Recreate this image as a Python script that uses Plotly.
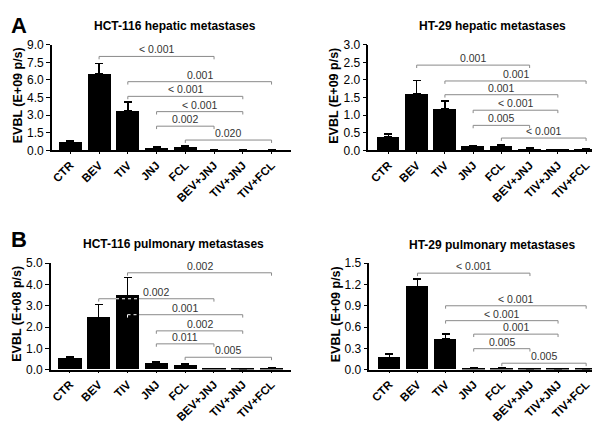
import plotly.graph_objects as go

categories = ["CTR", "BEV", "TIV", "JNJ", "FCL", "BEV+JNJ", "TIV+JNJ", "TIV+FCL"]

# Panel A-left: HCT-116 hepatic
hct_hep_mean = [0.70, 6.50, 3.40, 0.24, 0.30, 0.04, 0.04, 0.04]
hct_hep_top = [0.82, 7.40, 4.10, 0.34, 0.42, 0.05, 0.05, 0.05]
hct_hep_brackets = [(1, 5, 8.0, "< 0.001"), (2, 7, 5.85, "0.001"), (2, 6, 4.6, "< 0.001"),
                    (3, 6, 3.3, "< 0.001"), (3, 5, 2.06, "0.002"), (4, 7, 0.88, "0.020")]

# Panel A-right: HT-29 hepatic
ht_hep_mean = [0.38, 1.62, 1.17, 0.12, 0.13, 0.04, 0.02, 0.04]
ht_hep_top = [0.47, 1.98, 1.40, 0.14, 0.16, 0.07, 0.03, 0.06]
ht_hep_brackets = [(1, 5, 2.42, "0.001"), (2, 7, 1.97, "0.001"), (2, 6, 1.58, "0.001"),
                   (3, 6, 1.14, "< 0.001"), (3, 5, 0.71, "0.005"), (4, 7, 0.35, "< 0.001")]

# Panel B-left: HCT-116 pulmonary
hct_pul_mean = [0.55, 2.45, 3.48, 0.28, 0.22, 0.04, 0.03, 0.06]
hct_pul_top = [0.62, 3.05, 4.33, 0.35, 0.29, 0.05, 0.04, 0.08]
hct_pul_brackets = [(2, 7, 4.55, "0.002"), (1, 5, 3.33, "0.002"), (2, 6, 2.58, "0.001"),
                    (3, 6, 1.82, "0.002"), (3, 5, 1.21, "0.011"), (4, 7, 0.58, "0.005")]

# Panel B-right: HT-29 pulmonary
ht_pul_mean = [0.17, 1.17, 0.43, 0.02, 0.02, 0.01, 0.01, 0.01]
ht_pul_top = [0.22, 1.28, 0.50, 0.025, 0.025, 0.012, 0.012, 0.012]
ht_pul_brackets = [(1, 5, 1.36, "< 0.001"), (2, 7, 0.90, "< 0.001"), (2, 6, 0.69, "< 0.001"),
                   (3, 6, 0.50, "0.001"), (3, 5, 0.295, "0.005"), (4, 7, 0.09, "0.005")]

titles = ["HCT-116 hepatic metastases", "HT-29 hepatic metastases",
          "HCT-116 pulmonary metastases", "HT-29 pulmonary metastases"]
ytitles = ["EVBL (E+09 p/s)", "EVBL (E+09 p/s)", "EVBL (E+08 p/s)", "EVBL (E+09 p/s)"]

W, H = 600, 424
FONT = "Liberation Sans, Arial, sans-serif"

panels = [
    dict(mean=hct_hep_mean, top=hct_hep_top, br=hct_hep_brackets, ymax=9.0, dtick=1.5,
         px=(43, 282), py=(30.7, 140), xr=(-0.64, 7.66), title_xy=(166, 11), yt_xy=(9, 83)),
    dict(mean=ht_hep_mean, top=ht_hep_top, br=ht_hep_brackets, ymax=3.0, dtick=0.5,
         px=(360, 597), py=(30.7, 140), xr=(-0.71, 7.67), title_xy=(484, 11), yt_xy=(326, 83)),
    dict(mean=hct_pul_mean, top=hct_pul_top, br=hct_pul_brackets, ymax=5.0, dtick=1.0,
         px=(42, 282), py=(256.7, 366.7), xr=(-0.66, 7.66), title_xy=(165, 237), yt_xy=(8, 309)),
    dict(mean=ht_pul_mean, top=ht_pul_top, br=ht_pul_brackets, ymax=1.5, dtick=0.3,
         px=(361, 597), py=(256.7, 366.7), xr=(-0.71, 7.67), title_xy=(484, 238), yt_xy=(327, 309)),
]

fig = go.Figure()
shapes = []
annotations = []
BAR_W = 0.8
xs = list(range(len(categories)))

for i, p in enumerate(panels):
    n = "" if i == 0 else str(i + 1)
    xa, ya = "x" + n, "y" + n
    errs = [t - m for t, m in zip(p["top"], p["mean"])]
    fig.add_trace(go.Bar(
        x=xs, y=p["mean"], width=BAR_W, marker=dict(color="black", line=dict(width=0)),
        error_y=dict(type="data", array=errs, arrayminus=[0] * len(errs), symmetric=False,
                     color="black", thickness=1.5, width=4),
        xaxis=xa, yaxis=ya, showlegend=False))

    x0, x1 = p["px"]
    ytop, ybot = p["py"]
    lay_x = "xaxis" + n
    lay_y = "yaxis" + n
    fig.layout[lay_x] = dict(
        domain=[x0 / W, x1 / W], range=list(p["xr"]), anchor=ya,
        tickmode="array", tickvals=xs, ticktext=categories, tickangle=-45,
        tickfont=dict(family=FONT, size=11.5, color="black", weight="bold"),
        showline=True, linecolor="black", linewidth=1.5, ticks="outside", ticklen=2,
        tickcolor="black", showgrid=False, zeroline=False, fixedrange=True)
    fig.layout[lay_y] = dict(
        domain=[1 - ybot / H, 1 - ytop / H], range=[0, p["ymax"]], anchor=xa,
        dtick=p["dtick"], tick0=0, tickformat=".1f",
        tickfont=dict(family=FONT, size=12, color="black"),
        showline=True, linecolor="black", linewidth=1.5, ticks="outside", ticklen=4,
        tickcolor="black", showgrid=False, zeroline=False)

    # bracket tick length in data units (3 px)
    dy = 3 * p["ymax"] / (ybot - ytop)
    for (a, b, yv, lab) in p["br"]:
        path = f"M {a},{yv - dy} L {a},{yv} L {b},{yv} L {b},{yv - dy}"
        shapes.append(dict(type="path", path=path, xref=xa, yref=ya,
                           line=dict(color="#8a8a8a", width=1), layer="below"))
        # white dotted parts where the bracket crosses a bar
        for k in range(a, b + 1):
            if p["mean"][k] > yv:
                lx0 = max(a, k - BAR_W / 2)
                lx1 = min(b, k + BAR_W / 2)
                if lx1 > lx0:
                    shapes.append(dict(type="line", x0=lx0, x1=lx1, y0=yv, y1=yv,
                                       xref=xa, yref=ya, layer="above",
                                       line=dict(color="white", width=1, dash="dot")))
                if k == a:
                    shapes.append(dict(type="line", x0=a, x1=a, y0=yv - dy, y1=yv,
                                       xref=xa, yref=ya, layer="above",
                                       line=dict(color="white", width=1, dash="dot")))
        annotations.append(dict(x=(a + b) / 2, y=yv, xref=xa, yref=ya, text=lab,
                                showarrow=False, yanchor="bottom", yshift=-1,
                                font=dict(family=FONT, size=10.5, color="#333333")))

    tx, ty = p["title_xy"]
    annotations.append(dict(x=tx / W, y=1 - ty / H, xref="paper", yref="paper",
                            text=titles[i], showarrow=False, xanchor="center", yanchor="middle",
                            font=dict(family=FONT, size=12, color="black", weight="bold")))
    yx, yy = p["yt_xy"]
    annotations.append(dict(x=yx / W, y=1 - yy / H, xref="paper", yref="paper",
                            text=ytitles[i], showarrow=False, textangle=-90,
                            xanchor="center", yanchor="middle",
                            font=dict(family=FONT, size=12.5, color="black", weight="bold")))

annotations.append(dict(x=0, y=1 - 11 / H, xref="paper", yref="paper", text="A",
                        showarrow=False, xanchor="left", yanchor="middle",
                        font=dict(family=FONT, size=22, color="black", weight="bold")))
annotations.append(dict(x=0, y=1 - 232 / H, xref="paper", yref="paper", text="B",
                        showarrow=False, xanchor="left", yanchor="middle",
                        font=dict(family=FONT, size=22, color="black", weight="bold")))

fig.update_layout(width=W, height=H, margin=dict(l=0, r=0, t=0, b=0),
                  paper_bgcolor="white", plot_bgcolor="white",
                  shapes=shapes, annotations=annotations, bargap=0)
fig.write_html("out.html")
